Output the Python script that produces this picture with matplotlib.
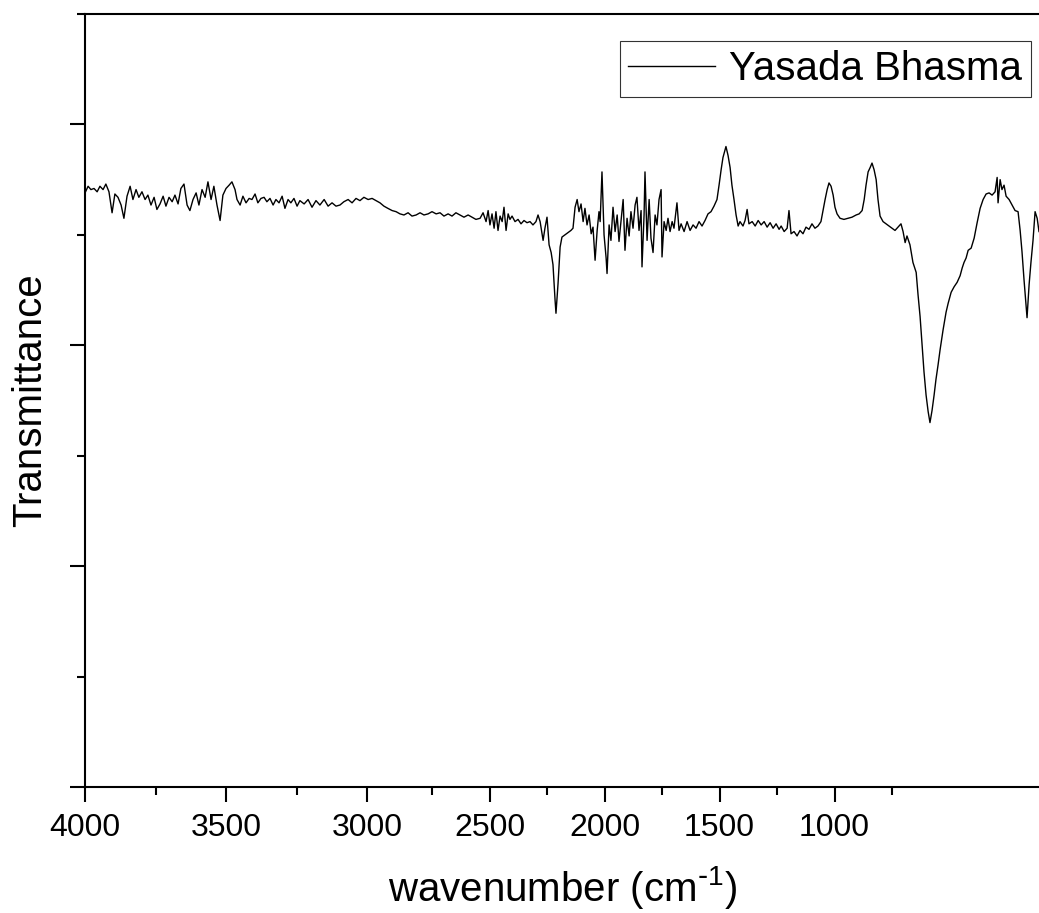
"""
FTIR spectrum of Yasada Bhasma (transmittance vs wavenumber).
Values read off the reference figure. The x axis there is not uniform:
4000-2856 cm-1 is drawn wider than the rest, so a piecewise scale is used.
"""
import numpy as np
import matplotlib
matplotlib.use("Agg")
import matplotlib.pyplot as plt
from matplotlib.ticker import FixedLocator, NullFormatter

plt.rcParams["font.family"] = ["Liberation Sans", "DejaVu Sans"]
plt.rcParams["mathtext.default"] = "regular"

# ---- data: 4000 - 2860 cm-1 -------------------------------------------
wn_high = [4000, 3989, 3979, 3968, 3957, 3947, 3936, 3926, 3915, 3904,
           3894, 3883, 3872, 3862, 3851, 3840, 3830, 3819, 3809, 3798,
           3787, 3777, 3766, 3755, 3745, 3734, 3723, 3713, 3702, 3691,
           3681, 3670, 3660, 3649, 3638, 3628, 3617, 3606, 3596, 3585,
           3574, 3564, 3553, 3543, 3532, 3521, 3511, 3500, 3489, 3479,
           3468, 3461, 3450, 3440, 3429, 3418, 3408, 3397, 3387, 3376,
           3365, 3355, 3344, 3333, 3323, 3312, 3301, 3291, 3280, 3270,
           3259, 3248, 3238, 3223, 3209, 3195, 3181, 3167, 3152, 3138,
           3124, 3110, 3096, 3082, 3067, 3053, 3039, 3025, 3011, 2996,
           2982, 2968, 2954, 2940, 2926, 2911, 2897, 2883, 2869]
tr_high = [53.8, 54.4, 54.1, 54.2, 53.9, 54.4, 54.1, 54.6, 53.9, 52.0,
           53.7, 53.4, 52.7, 51.5, 53.5, 54.4, 53.2, 54.1, 53.4, 53.9,
           53.2, 53.6, 52.7, 53.4, 52.3, 52.8, 53.5, 52.6, 53.4, 53.0,
           53.6, 52.8, 54.2, 54.6, 52.7, 52.2, 53.2, 53.8, 52.7, 54.1,
           53.4, 54.8, 53.2, 54.4, 52.7, 51.3, 53.6, 54.2, 54.5, 54.8,
           54.1, 53.2, 52.7, 53.5, 52.9, 53.3, 53.2, 53.7, 52.9, 53.3,
           53.4, 53.0, 53.3, 52.7, 53.2, 52.9, 53.5, 52.4, 53.2, 52.9,
           53.3, 52.6, 53.1, 52.8, 53.2, 52.5, 53.1, 52.7, 53.2, 52.6,
           52.9, 52.6, 52.7, 53.0, 53.2, 52.9, 53.3, 53.1, 53.4, 53.2,
           53.3, 53.1, 52.9, 52.6, 52.4, 52.2, 52.1, 51.9, 51.8]

# ---- data: 2855 - 1500 cm-1 -------------------------------------------
wn_mid = [2854, 2837, 2819, 2802, 2785, 2767, 2750, 2732, 2715, 2698,
          2680, 2663, 2646, 2628, 2611, 2593, 2576, 2559, 2541, 2528,
          2515, 2506, 2498, 2489, 2480, 2472, 2463, 2454, 2445, 2437,
          2428, 2419, 2411, 2402, 2389, 2376, 2363, 2350, 2337, 2324,
          2311, 2298, 2289, 2280, 2267, 2259, 2250, 2241, 2232, 2224,
          2215, 2211, 2202, 2193, 2185, 2172, 2159, 2146, 2137, 2128,
          2119, 2111, 2102, 2093, 2085, 2076, 2067, 2058, 2050, 2041,
          2032, 2024, 2019, 2011, 2002, 1993, 1989, 1980, 1972, 1963,
          1954, 1945, 1937, 1928, 1919, 1911, 1902, 1893, 1885, 1876,
          1867, 1859, 1850, 1841, 1837, 1828, 1824, 1815, 1806, 1798,
          1789, 1780, 1772, 1763, 1754, 1750, 1741, 1732, 1724, 1715,
          1706, 1698, 1689, 1685, 1676, 1667, 1654, 1641, 1628, 1615,
          1602, 1589, 1576, 1563, 1550, 1537, 1524, 1511]
tr_mid = [52.0, 51.7, 51.8, 52.0, 51.8, 51.9, 52.1, 51.9, 52.0, 51.7,
          51.9, 51.7, 52.0, 51.8, 51.6, 51.8, 51.6, 51.4, 51.5, 52.0,
          51.2, 52.2, 50.9, 51.9, 50.6, 52.1, 50.4, 51.7, 51.2, 52.5,
          50.4, 51.9, 51.4, 51.7, 51.2, 51.4, 51.0, 51.3, 51.1, 51.2,
          50.9, 51.2, 51.8, 51.2, 49.5, 50.6, 51.6, 49.1, 48.4, 47.3,
          44.1, 42.9, 45.6, 48.9, 49.8, 50.0, 50.2, 50.4, 50.6, 52.5,
          53.2, 52.1, 52.8, 51.2, 52.4, 50.9, 51.8, 50.1, 50.7, 47.7,
          50.4, 52.1, 51.2, 55.7, 50.0, 47.9, 46.5, 50.9, 49.5, 52.5,
          50.3, 51.8, 49.4, 51.3, 53.2, 48.6, 51.5, 49.9, 52.1, 50.6,
          52.7, 53.4, 50.4, 52.2, 47.1, 51.8, 55.7, 49.5, 53.2, 49.7,
          48.4, 51.8, 50.9, 53.2, 54.1, 48.0, 51.2, 50.4, 51.5, 50.3,
          51.2, 50.6, 52.2, 52.9, 50.4, 51.0, 50.3, 51.2, 50.4, 50.9,
          50.6, 51.2, 50.8, 51.3, 51.9, 52.1, 52.6, 53.2]

# ---- data: 1500 - 111 cm-1 --------------------------------------------
wn_low = [1502, 1493, 1485, 1476, 1472, 1463, 1454, 1446, 1437, 1428,
          1419, 1411, 1398, 1389, 1380, 1372, 1358, 1345, 1332, 1319,
          1306, 1293, 1280, 1267, 1254, 1241, 1232, 1219, 1206, 1198,
          1189, 1176, 1163, 1150, 1137, 1124, 1111, 1098, 1085, 1072,
          1059, 1050, 1041, 1032, 1024, 1015, 1006, 998, 989, 976,
          959, 941, 924, 906, 893, 880, 871, 863, 854, 845,
          837, 828, 819, 811, 802, 789, 776, 763, 750, 737,
          724, 711, 702, 693, 685, 672, 659, 645, 637, 628,
          619, 611, 602, 593, 585, 576, 567, 559, 550, 541,
          528, 515, 506, 493, 480, 467, 454, 445, 437, 428,
          419, 406, 393, 380, 367, 354, 341, 328, 315, 302,
          293, 289, 280, 272, 263, 254, 241, 228, 215, 202,
          193, 185, 176, 167, 163, 154, 146, 137, 128, 119, 111]
tr_low = [54.5, 55.9, 57.0, 57.7, 58.0, 57.2, 56.1, 54.5, 53.2, 51.8,
          50.8, 51.2, 50.8, 51.3, 52.3, 51.0, 51.2, 50.8, 51.3, 50.9,
          51.2, 50.7, 51.1, 50.6, 51.0, 50.5, 50.8, 50.3, 50.6, 52.2,
          50.1, 50.3, 49.9, 50.4, 50.1, 50.7, 50.5, 51.0, 50.6, 50.8,
          51.2, 52.2, 53.2, 54.1, 54.7, 54.4, 53.6, 52.5, 51.9, 51.5,
          51.4, 51.5, 51.6, 51.8, 51.9, 52.2, 53.2, 54.5, 55.7, 56.1,
          56.5, 55.9, 55.0, 53.2, 51.7, 51.2, 51.0, 50.8, 50.6, 50.4,
          50.7, 51.0, 50.3, 49.3, 49.9, 49.1, 47.5, 46.6, 44.6, 42.6,
          40.0, 37.6, 35.5, 34.0, 33.0, 34.1, 35.5, 36.9, 38.2, 39.6,
          41.4, 43.0, 43.8, 44.8, 45.3, 45.7, 46.3, 47.0, 47.5, 47.9,
          48.6, 48.8, 49.7, 51.1, 52.4, 53.2, 53.7, 53.8, 53.6, 53.9,
          55.2, 52.9, 55.0, 54.1, 54.5, 53.5, 53.2, 52.7, 52.2, 52.1,
          50.4, 48.5, 45.9, 43.6, 42.5, 45.5, 47.5, 49.5, 52.1, 51.5, 50.3]

x_major = [4000, 3500, 3000, 2500, 2000, 1500, 1000]
x_minor = [3750, 3250, 2750, 2250, 1750, 1250, 750]
y_major = [0, 20, 40, 60]
y_minor = [10, 30, 50, 70]

BREAK = 2856          # above this wavenumber the axis is stretched
S_HI = 0.282 / 0.230  # stretch factor of the upper part


def fwd(w):
    w = np.asarray(w, float)
    return np.where(w < BREAK, w, BREAK + (w - BREAK) * S_HI)


def inv(v):
    v = np.asarray(v, float)
    return np.where(v < BREAK, v, BREAK + (v - BREAK) / S_HI)


wn = np.array(wn_high + wn_mid + wn_low)
tr = np.array(tr_high + tr_mid + tr_low)

fig = plt.figure(figsize=(10.39, 9.13), dpi=100)
ax = fig.add_axes([85 / 1039, 126 / 913, 954 / 1039, 773 / 913])
ax.set_xscale("function", functions=(fwd, inv))

ax.plot(wn, tr, color="black", lw=1.0, label="Yasada Bhasma")

ax.set_xlim(4000, 111)
ax.set_ylim(0, 70)

ax.xaxis.set_major_locator(FixedLocator(x_major))
ax.xaxis.set_minor_locator(FixedLocator(x_minor))
ax.xaxis.set_minor_formatter(NullFormatter())
ax.yaxis.set_major_locator(FixedLocator(y_major))
ax.yaxis.set_minor_locator(FixedLocator(y_minor))
ax.yaxis.set_major_formatter(NullFormatter())

ax.tick_params(which="major", direction="out", length=10.5, width=1.5,
               labelsize=23, pad=8.5)
ax.tick_params(which="minor", direction="out", length=5.5, width=1.5)
ax.spines["right"].set_visible(False)
for s in ("left", "bottom", "top"):
    ax.spines[s].set_linewidth(1.5)

ax.set_xlabel(r"wavenumber (cm$^{\text{-}1}$)", fontsize=29)
ax.xaxis.set_label_coords(0.5, -0.1)
ax.set_ylabel("Transmittance", fontsize=29)
ax.yaxis.set_label_coords(-0.038, 0.5)

leg = ax.legend(loc="upper right", bbox_to_anchor=(1031 / 1039, 1 - 41 / 913),
                bbox_transform=fig.transFigure, borderaxespad=0,
                fontsize=29, frameon=True, fancybox=False,
                handlelength=2.15, handletextpad=0.35, borderpad=0.22)
leg.get_frame().set_edgecolor("black")
leg.get_frame().set_linewidth(0.8)

fig.savefig("out.png", dpi=100)
